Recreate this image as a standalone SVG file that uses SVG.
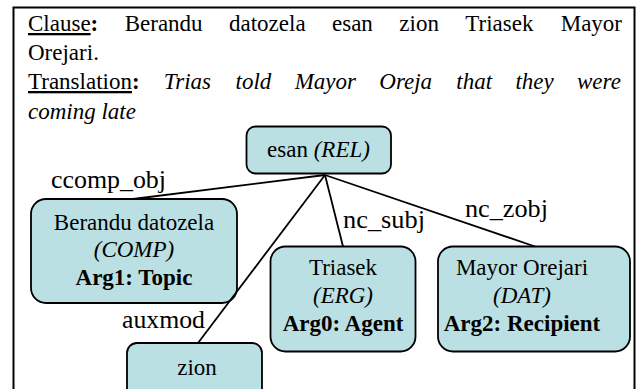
<svg xmlns="http://www.w3.org/2000/svg" width="637" height="389" viewBox="0 0 637 389" font-family="'Liberation Serif', Tinos, 'Times New Roman', 'DejaVu Serif', serif">
<style>
  text { font-family: "Liberation Serif", Tinos, "Times New Roman", "DejaVu Serif", serif; font-size: 23px; fill: #000; }
  .lbl { font-size: 25px; }
  .it { font-style: italic; }
  .b { font-weight: bold; }
  .u { text-decoration: underline; }
  .node { fill: #bae0e3; stroke: #000; stroke-width: 1.8; }
  .edge { stroke: #000; stroke-width: 1.8; fill: none; }
</style>
<rect x="13.5" y="7.5" width="621" height="395" fill="#fff" stroke="#000" stroke-width="2"/>
<g id="header">
  <text y="31"><tspan x="28" class="u">Clause</tspan><tspan class="b">:</tspan><tspan x="124.7">Berandu</tspan><tspan x="229">datozela</tspan><tspan x="332">esan</tspan><tspan x="399.3">zion</tspan><tspan x="465.3">Triasek</tspan><tspan x="560.7">Mayor</tspan></text>
  <text x="28" y="60">Orejari.</text>
  <text y="89"><tspan x="28" class="u">Translation</tspan><tspan class="b">:</tspan><tspan x="163.7" class="it">Trias</tspan><tspan x="235.6" class="it">told</tspan><tspan x="294.7" class="it">Mayor</tspan><tspan x="379.3" class="it">Oreja</tspan><tspan x="456.3" class="it">that</tspan><tspan x="515.4" class="it">they</tspan><tspan x="577" class="it">were</tspan></text>
  <text x="28" y="118.5" class="it">coming late</text>
</g>
<g id="n-esan">
  <rect class="node" x="246.5" y="126.5" width="144.5" height="47" rx="9"/>
  <text x="318.5" y="157" text-anchor="middle">esan <tspan class="it">(REL)</tspan></text>
</g>
<g id="n-berandu">
  <rect class="node" x="31" y="199" width="206" height="104" rx="15"/>
  <text x="134" y="230" text-anchor="middle">Berandu datozela</text>
  <text x="134" y="257" text-anchor="middle" class="it">(COMP)</text>
  <text x="134" y="285" text-anchor="middle" class="b">Arg1: Topic</text>
</g>
<g id="n-triasek">
  <rect class="node" x="270.5" y="246.5" width="145" height="105" rx="15"/>
  <text x="343" y="275" text-anchor="middle">Triasek</text>
  <text x="343" y="303" text-anchor="middle" class="it">(ERG)</text>
  <text x="343" y="331" text-anchor="middle" class="b">Arg0: Agent</text>
</g>
<g id="n-mayor">
  <rect class="node" x="438" y="246.5" width="192" height="105" rx="15"/>
  <text x="522" y="275" text-anchor="middle">Mayor Orejari</text>
  <text x="522" y="303" text-anchor="middle" class="it">(DAT)</text>
  <text x="522" y="331" text-anchor="middle" class="b">Arg2: Recipient</text>
</g>
<g id="n-zion">
  <rect class="node" x="127" y="343" width="135" height="60" rx="10"/>
  <text x="197" y="375" text-anchor="middle">zion</text>
</g>
<g id="connectors">
  <line class="edge" x1="325" y1="175" x2="133" y2="199"/>
  <line class="edge" x1="325" y1="175" x2="198" y2="343"/>
  <line class="edge" x1="325" y1="175" x2="343" y2="246.5"/>
  <line class="edge" x1="325" y1="175" x2="535" y2="246.5"/>
  <text class="lbl" x="51" y="188" textLength="115" lengthAdjust="spacingAndGlyphs">ccomp_obj</text>
  <text class="lbl" x="122" y="328" textLength="83" lengthAdjust="spacingAndGlyphs">auxmod</text>
  <text class="lbl" x="343" y="228" textLength="82" lengthAdjust="spacingAndGlyphs">nc_subj</text>
  <text class="lbl" x="465" y="217" textLength="83" lengthAdjust="spacingAndGlyphs">nc_zobj</text>
</g>
</svg>
